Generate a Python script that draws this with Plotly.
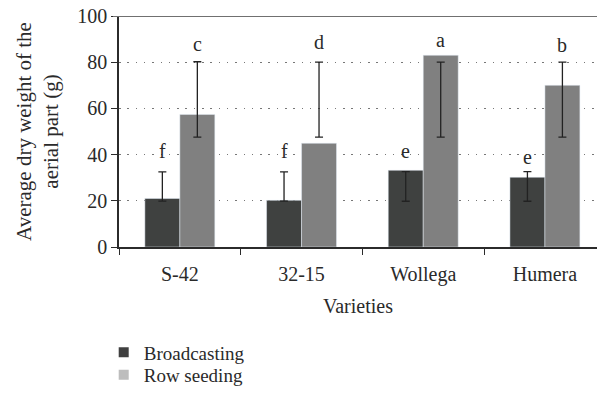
import plotly.graph_objects as go

varieties = ["S-42", "32-15", "Wollega", "Humera"]
broadcasting = [21, 20.2, 33.2, 30.2]
broadcasting_err_hi = [32.5, 32.5, 32.6, 32.6]
broadcasting_err_lo = [19.9, 19.9, 19.8, 19.8]
row_seeding = [57.4, 44.9, 83, 70]
row_err_hi = [80.2, 80, 80, 80]
row_err_lo = [47.6, 47.6, 47.6, 47.6]
letters_broadcasting = ["f", "f", "e", "e"]
letters_broadcasting_y = [41.7, 41.7, 41.4, 38.8]
letters_row = ["c", "d", "a", "b"]
letters_row_y = [87.9, 88.6, 89.4, 87.4]

FONT = "Liberation Serif, Times New Roman, serif"
TXT = "#2a2a2a"
DARK = "#3f4140"
GRAY = "#808080"
BARGAP = 0.425

fig = go.Figure()

def err(vals, hi, lo):
    return dict(type="data", symmetric=False,
                array=[h - v for h, v in zip(hi, vals)],
                arrayminus=[v - l for v, l in zip(vals, lo)],
                color="#222222", thickness=1.3, width=4)

fig.add_trace(go.Bar(x=varieties, y=broadcasting, marker_color=DARK, showlegend=False,
                     error_y=err(broadcasting, broadcasting_err_hi, broadcasting_err_lo)))
fig.add_trace(go.Bar(x=varieties, y=row_seeding, marker_color=GRAY, showlegend=False,
                     error_y=err(row_seeding, row_err_hi, row_err_lo)))

# legend entries
fig.add_trace(go.Scatter(x=[None], y=[None], mode="markers", name="Broadcasting",
                         marker=dict(symbol="square", size=10, color="#404040"), legend="legend"))
fig.add_trace(go.Scatter(x=[None], y=[None], mode="markers", name="Row seeding",
                         marker=dict(symbol="square", size=10, color="#bdbdbd"), legend="legend2"))

bw = (1 - BARGAP) / 2
for i, v in enumerate(varieties):
    fig.add_annotation(x=i - bw / 2, y=letters_broadcasting_y[i], xref="x", yref="y",
                       text=letters_broadcasting[i], showarrow=False, yanchor="middle",
                       font=dict(family=FONT, size=20, color=TXT))
    fig.add_annotation(x=i + bw / 2, y=letters_row_y[i], xref="x", yref="y",
                       text=letters_row[i], showarrow=False, yanchor="middle",
                       font=dict(family=FONT, size=20, color=TXT))

fig.add_shape(type="line", xref="paper", yref="y", x0=-6 / 478, x1=1, y0=100, y1=100,
              line=dict(color="#707070", width=2))

fig.update_layout(
    width=597, height=394,
    margin=dict(l=119, r=0, t=16, b=146),
    paper_bgcolor="white", plot_bgcolor="white",
    barmode="group", bargap=BARGAP, bargroupgap=0,
    font=dict(family=FONT, size=20, color=TXT),
    xaxis=dict(type="category", range=[-0.5, 3.428], showgrid=False,
               showline=True, linecolor="#2b2b2b", linewidth=1.5,
               ticks="outside", tickson="boundaries", ticklen=6, tickcolor="#2b2b2b",
               ticklabelstandoff=8,
               tickfont=dict(family=FONT, size=20, color=TXT),
               title=dict(text="Varieties", font=dict(family=FONT, size=20, color=TXT), standoff=14)),
    yaxis=dict(range=[0, 100], tickvals=[0, 20, 40, 60, 80, 100],
               showgrid=True, gridcolor="#777777", gridwidth=1, griddash="1.5px,6.8px",
               zeroline=False, showline=True, linecolor="#2b2b2b", linewidth=1.5,
               ticks="outside", ticklen=6, tickcolor="#2b2b2b",
               tickfont=dict(family=FONT, size=20, color=TXT),
               title=dict(text="Average dry weight of the<br>aerial part (g)",
                          font=dict(family=FONT, size=21, color=TXT), standoff=13)),
    legend=dict(x=-0.032, xanchor="left", y=-0.45, yanchor="middle", yref="paper",
                font=dict(family=FONT, size=19, color=TXT), bgcolor="rgba(0,0,0,0)"),
    legend2=dict(x=-0.032, xanchor="left", y=-0.552, yanchor="middle", yref="paper",
                 font=dict(family=FONT, size=19, color=TXT), bgcolor="rgba(0,0,0,0)"),
)

fig.write_html("out.html")
